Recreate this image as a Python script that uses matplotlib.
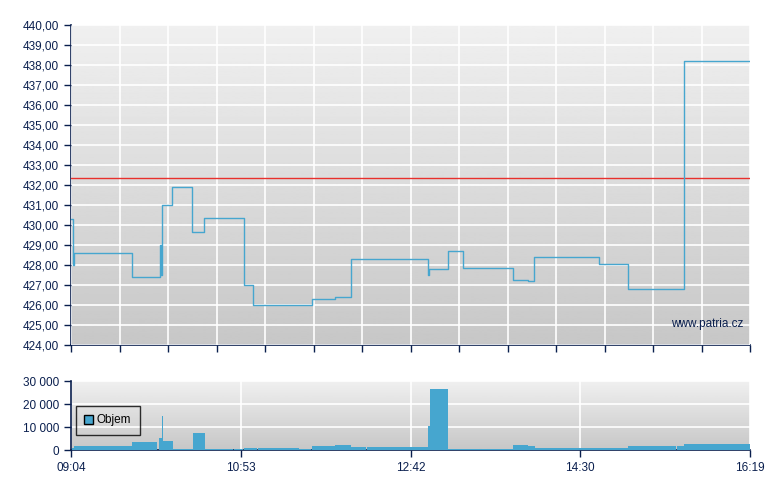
import numpy as np
import matplotlib
matplotlib.use("Agg")
import matplotlib.pyplot as plt
from matplotlib.patches import Patch

plt.rcParams['font.family'] = ['Liberation Sans', 'DejaVu Sans']

# price step series: minutes after 09:04, price
price_t = [0, 1.3, 1.9, 38.9, 57.0, 57.6, 58.3, 64.9, 77.7, 85.2, 110.6, 116.4,
           154.2, 169.1, 179.2, 228.5, 229.2, 241.3, 251.3, 283.0, 292.9, 296.8,
           338.2, 356.6, 392.9, 435]
price_v = [430.3, 428.0, 428.6, 427.4, 429.0, 427.5, 431.0, 431.9, 429.65, 430.35,
           427.0, 426.0, 426.3, 426.4, 428.3, 427.5, 427.8, 428.7, 427.85, 427.25,
           427.2, 428.4, 428.05, 426.8, 438.2, 438.2]
prev_close = 432.35

# volume bars: start minute, end minute, volume
vol_start = [0.4, 1.9, 39.1, 56.4, 58.3, 58.9, 65.1, 78.2, 85.6, 104.2, 110.8, 119.8,
             146.2, 154.4, 168.9, 179.2, 189.4, 228.9, 230.0, 241.3, 283.1, 292.6,
             297.2, 356.6, 388.0, 392.7]
vol_end = [1.9, 39.1, 55.1, 58.3, 58.9, 65.1, 78.2, 85.6, 103.8, 110.4, 119.3, 145.9,
           153.9, 168.9, 179.2, 189.0, 228.9, 230.0, 241.3, 283.1, 292.6, 297.2,
           356.6, 387.6, 392.7, 435]
vol_v = [900, 1800, 3600, 5200, 14800, 4000, 500, 7500, 500, 300, 1000, 900,
         500, 1800, 2300, 1300, 1300, 10400, 26400, 500, 2200, 1700,
         900, 1700, 1700, 2600]

time_ticks = [0, 109, 218, 326, 435]
time_labels = ['09:04', '10:53', '12:42', '14:30', '16:19']

navy = '#0a1f4e'
blue = '#46a6cf'

W, H = 780, 490
fig = plt.figure(figsize=(W / 100, H / 100), dpi=100)
ax1 = fig.add_axes([71 / W, 1 - 345 / H, 679 / W, 320 / H])
ax2 = fig.add_axes([71 / W, 1 - 450 / H, 679 / W, 69 / H])

grad = np.linspace(0.94, 0.78, 256).reshape(-1, 1)
for ax in (ax1, ax2):
    ax.imshow(grad, extent=[0, 1, 0, 1], transform=ax.transAxes, aspect='auto',
              cmap='gray', vmin=0, vmax=1, origin='upper', zorder=0)
    for s in ('top', 'right'):
        ax.spines[s].set_visible(False)
    for s in ('left', 'bottom'):
        ax.spines[s].set_color(navy)
        ax.spines[s].set_linewidth(1.2)
    ax.tick_params(colors=navy, labelcolor=navy, labelsize=8.5, length=5, width=1)
    ax.set_xlim(0, 435)

# price panel
ax1.set_ylim(424, 440)
ax1.set_yticks(np.arange(424, 441, 1))
ax1.set_yticklabels([f'{v:.2f}'.replace('.', ',') for v in np.arange(424, 441, 1)])
ax1.set_xticks(np.linspace(0, 435, 15))
ax1.set_xticklabels([])
ax1.grid(True, color='white', linewidth=1.2, zorder=1)
ax1.set_axisbelow(False)
ax1.axhline(prev_close, color='#e8302c', linewidth=1, zorder=3)
ax1.step(price_t, price_v, where='post', color=blue, linewidth=1.0, zorder=4)
ax1.text(0.99, 0.065, 'www.patria.cz', transform=ax1.transAxes, ha='right',
         va='center', color=navy, fontsize=8.5, zorder=5)

# volume panel
ax2.set_ylim(0, 30000)
ax2.set_yticks([0, 10000, 20000, 30000])
ax2.set_yticklabels(['0', '10 000', '20 000', '30 000'])
ax2.set_xticks(time_ticks)
ax2.set_xticklabels(time_labels)
ax2.grid(True, color='white', linewidth=1.2, zorder=1)
widths = [e - s for s, e in zip(vol_start, vol_end)]
ax2.bar(vol_start, vol_v, width=widths, align='edge', color=blue, linewidth=0, zorder=3)
leg = ax2.legend(handles=[Patch(facecolor=blue, edgecolor='black', label='Objem')],
                 loc='upper left', bbox_to_anchor=(-0.002, 0.72), fontsize=8.5,
                 frameon=True, fancybox=False, handlelength=0.8, handleheight=0.8,
                 borderpad=0.7, handletextpad=0.3, labelcolor='black')
leg.get_frame().set_edgecolor('black')
leg.get_frame().set_facecolor('none')
leg.get_frame().set_linewidth(1)

fig.savefig('out.png', dpi=100)
